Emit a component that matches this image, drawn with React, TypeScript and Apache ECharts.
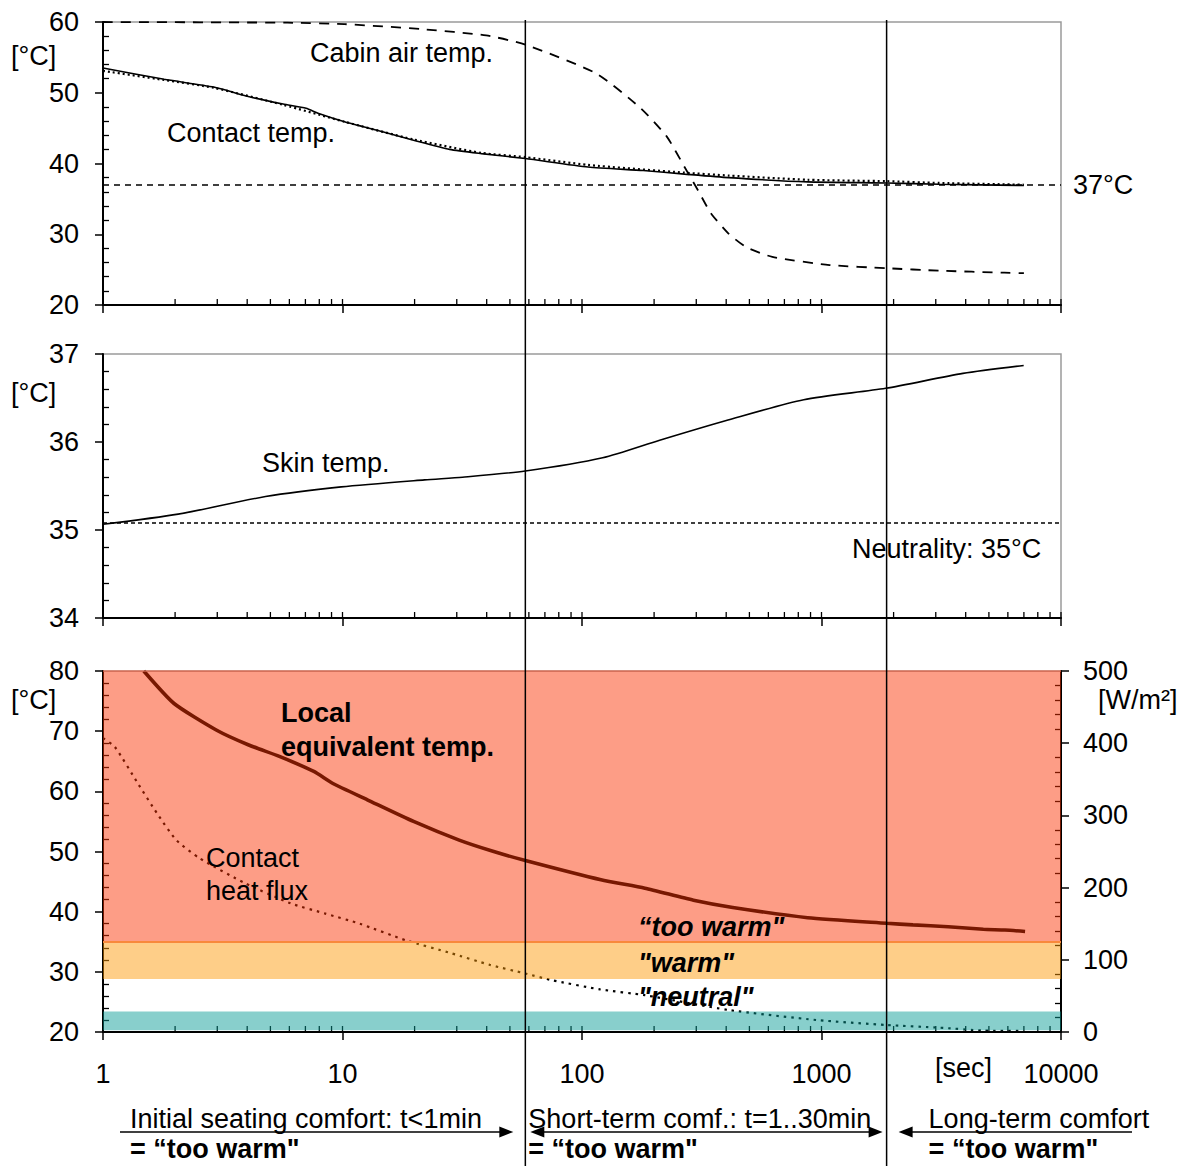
import React, { useEffect, useRef } from 'react';
import * as echarts from 'echarts';

const FONT = '"Liberation Sans", Arial, Helvetica, sans-serif';
const FS = 27;

// ---- x axis (time, log scale) ----
const X_MIN = 1;
const X_MAX = 10000;
const TICK_DECADES = [1, 10, 100, 1000];
const TICK_MULTS = [1, 2, 3, 4, 5, 6, 7, 8, 9];
const BOUNDARY_TIMES = [58, 1870]; // ~1 min and ~30 min

// ---- y ranges ----
const P1_Y = [20, 60];
const P2_Y = [34, 37];
const P3_Y = [20, 80];
const FLUX_Y = [0, 500];

// ---- panel 1: temperatures ----
const contactTime = [1, 1.8, 2.9, 4, 5.65, 7.05, 7.9, 10.2, 14.7, 19.8, 28, 38, 58, 106, 180, 268, 409, 875, 1870, 3100, 7000];
const contactTemp = [53.5, 51.9, 50.8, 49.5, 48.4, 47.8, 47.1, 45.9, 44.5, 43.3, 42.0, 41.4, 40.7, 39.5, 39.0, 38.5, 38.0, 37.4, 37.25, 37.06, 36.9];

const contact2Time = [1, 1.8, 2.9, 5.65, 10.2, 19.8, 38, 58, 106, 268, 409, 875, 1870, 3100, 7000];
const contact2Temp = [53.1, 51.8, 50.7, 48.3, 45.9, 43.4, 41.5, 40.9, 39.8, 38.7, 38.3, 37.7, 37.5, 37.25, 37.0];

const cabinTime = [1, 5.9, 10.2, 21.3, 39.8, 58, 115, 176, 226, 268, 304, 345, 409, 484, 623, 1080, 1870, 3100, 5800, 7000];
const cabinTemp = [60, 59.9, 59.7, 59.0, 58.1, 56.8, 52.7, 47.8, 43.8, 39.5, 36.3, 33.0, 30.1, 28.2, 26.8, 25.65, 25.2, 24.85, 24.57, 24.5];

const BODY_CORE_REF = 37;

// ---- panel 2: skin ----
const skinTime = [1, 2.06, 4.77, 9.88, 22, 31.7, 58, 122, 211, 407, 843, 1853, 3896, 6985];
const skinTemp = [35.065, 35.18, 35.38, 35.49, 35.57, 35.6, 35.67, 35.82, 36.02, 36.25, 36.48, 36.61, 36.78, 36.87];
const NEUTRAL_SKIN = 35.08;

// ---- panel 3: equivalent temperature and heat flux ----
const eqTime = [1.48, 1.98, 2.97, 4.06, 5.45, 7.59, 9.12, 12.7, 19.8, 30.7, 42.8, 58, 120, 183, 292, 426, 875, 1870, 2410, 3380, 4740, 5830, 7080];
const eqTemp = [80, 74.6, 70.2, 67.7, 65.8, 63.3, 61.3, 58.6, 55.0, 51.9, 50.0, 48.5, 45.3, 43.9, 41.9, 40.7, 39.0, 38.07, 37.8, 37.5, 37.07, 36.95, 36.7];

const fluxTime = [1, 1.12, 1.4, 1.68, 2.02, 2.52, 3.92, 6.09, 8.48, 11.8, 18.4, 28.5, 41.2, 58, 74.3, 119, 183, 409, 951, 1870, 3105, 4740, 6900];
const fluxVal = [407, 395, 344, 303, 266, 241, 206, 178, 164, 150, 127, 109, 93, 81, 72, 59, 51, 30.5, 16.6, 9.7, 6.0, 2, 1.5];

// comfort bands (°C)
const bandNames = ['too warm', 'warm', 'neutral-low'];
const bandLow = [35, 28.8, 20.3];
const bandHigh = [80, 35, 23.4];
const bandColors = ['rgba(251,51,3,0.48)', 'rgba(253,153,7,0.48)', 'rgba(7,155,149,0.48)'];

const zip = (a: number[], b: number[]) => a.map((v, i) => [v, b[i]]);

const xTicks: number[] = [];
TICK_DECADES.forEach((d) => TICK_MULTS.forEach((m) => xTicks.push(d * m)));
xTicks.push(X_MAX);

function tickSeries(gridIdx: number, yMin: number) {
  return {
    type: 'custom',
    xAxisIndex: gridIdx,
    yAxisIndex: gridIdx,
    silent: true,
    clip: false,
    data: xTicks.map((v) => [v, yMin]),
    renderItem: (params: any, api: any) => {
      const p = api.coord([api.value(0), api.value(1)]);
      return {
        type: 'line',
        shape: { x1: p[0], y1: p[1], x2: p[0], y2: p[1] - 6 },
        style: { stroke: '#000', lineWidth: 1.3 },
      };
    },
  };
}

function xAxis(gridIndex: number, showLabel: boolean) {
  return {
    type: 'log',
    logBase: 10,
    gridIndex,
    min: X_MIN,
    max: X_MAX,
    axisLine: { show: true, lineStyle: { color: '#000', width: 2 } },
    axisTick: { show: true, length: 8, lineStyle: { color: '#000', width: 1.5 } },
    axisLabel: {
      show: showLabel,
      color: '#000',
      fontSize: FS,
      fontFamily: FONT,
      margin: 28,
      formatter: (v: number) => String(Math.round(v)),
    },
    splitLine: { show: false },
  };
}

function yAxis(gridIndex: number, range: number[], interval: number, position: 'left' | 'right' = 'left') {
  return {
    type: 'value',
    gridIndex,
    position,
    min: range[0],
    max: range[1],
    interval,
    axisLine: { show: true, lineStyle: { color: '#000', width: 2 } },
    axisTick: { show: true, length: 8, lineStyle: { color: '#000', width: 1.5 } },
    minorTick: { show: true, splitNumber: 5, length: -6, lineStyle: { color: '#000', width: 1.3 } },
    minorSplitLine: { show: false },
    splitLine: { show: false },
    axisLabel: { color: '#000', fontSize: FS, fontFamily: FONT, margin: position === 'left' ? 24 : 22 },
  };
}

function txt(text: string, x: number, y: number, extra: any = {}) {
  return {
    type: 'text',
    x,
    y,
    z: 100,
    silent: true,
    style: { text, fontSize: FS, fontFamily: FONT, fill: '#000', verticalAlign: 'middle', ...extra },
  };
}

function arrowHead(tipX: number, y: number, dir: 1 | -1) {
  return {
    type: 'polygon',
    z: 100,
    silent: true,
    shape: { points: [[tipX, y], [tipX - dir * 14, y - 5.5], [tipX - dir * 14, y + 5.5]] },
    style: { fill: '#000' },
  };
}

function hline(x1: number, x2: number, y: number) {
  return {
    type: 'line',
    z: 100,
    silent: true,
    shape: { x1, y1: y, x2, y2: y },
    style: { stroke: '#000', lineWidth: 1.5 },
  };
}

export default function App() {
  const ref = useRef<HTMLDivElement>(null);

  useEffect(() => {
    if (!ref.current) return;
    const chart = echarts.init(ref.current, undefined, { renderer: 'svg' });

    const option: any = {
      animation: false,
      backgroundColor: '#fff',
      textStyle: { fontFamily: FONT },
      grid: [
        { left: 103, width: 958, top: 22, height: 283, show: true, borderColor: '#9a9a9a', borderWidth: 1.5 },
        { left: 103, width: 958, top: 354, height: 264, show: true, borderColor: '#9a9a9a', borderWidth: 1.5 },
        { left: 103, width: 958, top: 671, height: 361, show: false },
      ],
      xAxis: [xAxis(0, false), xAxis(1, false), xAxis(2, true)],
      yAxis: [
        yAxis(0, P1_Y, 10),
        yAxis(1, P2_Y, 1),
        yAxis(2, P3_Y, 10),
        yAxis(2, FLUX_Y, 100, 'right'),
      ],
      series: [
        {
          name: 'Contact temp.',
          type: 'line',
          xAxisIndex: 0,
          yAxisIndex: 0,
          showSymbol: false,
          smooth: 0.2,
          data: zip(contactTime, contactTemp),
          lineStyle: { color: '#000', width: 1.6 },
          markLine: {
            silent: true,
            symbol: 'none',
            lineStyle: { color: '#000', width: 1.5, type: [6, 5] },
            label: { show: true, position: 'end', distance: 12, formatter: '37°C', color: '#000', fontSize: FS, fontFamily: FONT },
            data: [{ yAxis: BODY_CORE_REF }],
          },
        },
        {
          name: 'Contact temp. (2)',
          type: 'line',
          xAxisIndex: 0,
          yAxisIndex: 0,
          showSymbol: false,
          smooth: 0.2,
          data: zip(contact2Time, contact2Temp),
          lineStyle: { color: '#000', width: 2.2, type: [2, 3] },
        },
        {
          name: 'Cabin air temp.',
          type: 'line',
          xAxisIndex: 0,
          yAxisIndex: 0,
          showSymbol: false,
          smooth: 0.2,
          data: zip(cabinTime, cabinTemp),
          lineStyle: { color: '#000', width: 1.8, type: [10, 8] },
        },
        tickSeries(0, P1_Y[0]),
        {
          name: 'Skin temp.',
          type: 'line',
          xAxisIndex: 1,
          yAxisIndex: 1,
          showSymbol: false,
          smooth: 0.25,
          data: zip(skinTime, skinTemp),
          lineStyle: { color: '#000', width: 1.6 },
          markLine: {
            silent: true,
            symbol: 'none',
            lineStyle: { color: '#000', width: 1.5, type: [4, 3] },
            label: { show: false },
            data: [{ yAxis: NEUTRAL_SKIN }],
          },
        },
        tickSeries(1, P2_Y[0]),
        {
          name: 'Local equivalent temp.',
          type: 'line',
          xAxisIndex: 2,
          yAxisIndex: 2,
          showSymbol: false,
          smooth: 0.2,
          data: zip(eqTime, eqTemp),
          lineStyle: { color: '#000', width: 3.6 },
          markArea: {
            z: 10,
            silent: true,
            data: bandNames.map((n, i) => [
              { name: '', yAxis: bandLow[i], itemStyle: { color: bandColors[i] } },
              { yAxis: bandHigh[i] },
            ]),
          },
          markLine: {
            z: 11,
            silent: true,
            symbol: 'none',
            label: { show: false },
            data: [
              { yAxis: bandHigh[0], lineStyle: { color: '#c9634c', width: 1.5, type: 'solid' } },
              { yAxis: bandLow[0], lineStyle: { color: '#f8893c', width: 2, type: 'solid' } },
            ],
          },
        },
        {
          name: 'Contact heat flux',
          type: 'line',
          xAxisIndex: 2,
          yAxisIndex: 3,
          showSymbol: false,
          smooth: 0.2,
          data: zip(fluxTime, fluxVal),
          lineStyle: { color: '#000', width: 2.2, type: [2.5, 5] },
        },
        tickSeries(2, P3_Y[0]),
      ],
    };

    chart.setOption(option);

    const bx = BOUNDARY_TIMES.map((t) => chart.convertToPixel({ xAxisIndex: 0 } as any, t) as number);
    const yArrow = 1132;
    const yText1 = 1119;
    const yText2 = 1149;

    const graphic: any[] = [
      // boundary lines
      ...bx.map((x) => ({
        type: 'line',
        z: 100,
        silent: true,
        shape: { x1: x, y1: 20, x2: x, y2: 1166 },
        style: { stroke: '#000', lineWidth: 1.5 },
      })),
      // unit labels
      txt('[°C]', 11, 56),
      txt('[°C]', 11, 393),
      txt('[°C]', 11, 700),
      txt('[W/m²]', 1098, 700),
      txt('[sec]', 935, 1068),
      // panel 1
      txt('Cabin air temp.', 310, 53),
      txt('Contact temp.', 167, 133),
      // panel 2
      txt('Skin temp.', 262, 463),
      txt('Neutrality: 35°C', 852, 549),
      // panel 3
      txt('Local', 281, 713, { fontWeight: 'bold' }),
      txt('equivalent temp.', 281, 747, { fontWeight: 'bold' }),
      txt('Contact', 206, 858),
      txt('heat flux', 206, 891),
      txt('\u201Ctoo warm"', 638, 927, { fontWeight: 'bold', fontStyle: 'italic' }),
      txt('"warm"', 638, 963, { fontWeight: 'bold', fontStyle: 'italic' }),
      txt('"neutral"', 638, 997, { fontWeight: 'bold', fontStyle: 'italic' }),
      // bottom annotations
      txt('Initial seating comfort: t<1min', 130, yText1),
      txt('= \u201Ctoo warm"', 130, yText2, { fontWeight: 'bold' }),
      hline(120, bx[0] - 20, yArrow),
      arrowHead(bx[0] - 12, yArrow, 1),
      txt('Short-term comf.: t=1..30min', bx[0] + 3, yText1),
      txt('= \u201Ctoo warm"', bx[0] + 3, yText2, { fontWeight: 'bold' }),
      hline(bx[0] + 10, bx[1] - 10, yArrow),
      arrowHead(bx[0] + 5, yArrow, -1),
      arrowHead(bx[1] - 4, yArrow, 1),
      txt('Long-term comfort', bx[1] + 42, yText1),
      txt('= \u201Ctoo warm"', bx[1] + 42, yText2, { fontWeight: 'bold' }),
      hline(bx[1] + 20, 1132, yArrow),
      arrowHead(bx[1] + 12, yArrow, -1),
    ];

    chart.setOption({ graphic });

    return () => chart.dispose();
  }, []);

  return (
    <div
      ref={ref}
      style={{ position: 'absolute', left: 0, top: 0, width: 1189, height: 1166, background: '#fff' }}
    />
  );
}
